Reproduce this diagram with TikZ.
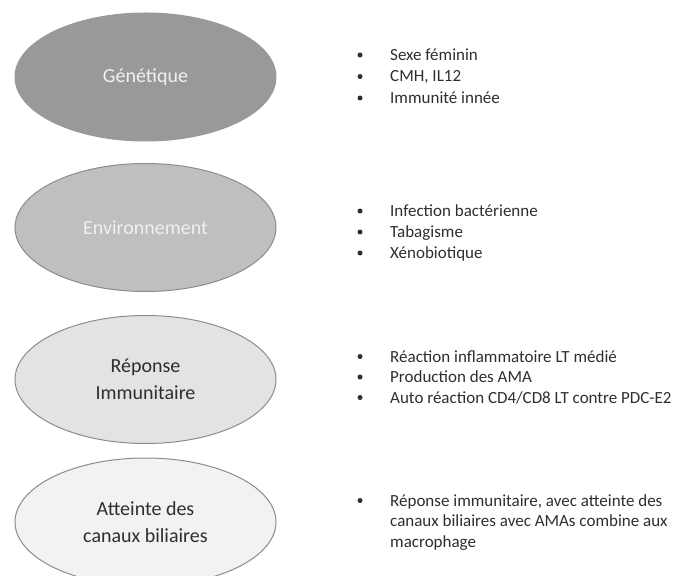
\documentclass[tikz,border=0pt]{standalone}
\usepackage{fontspec}
\setmainfont{Carlito}
\usetikzlibrary{shapes.geometric}
\definecolor{gris1}{HTML}{999999}
\definecolor{gris2}{HTML}{BFBFBF}
\definecolor{gris3}{HTML}{E3E3E3}
\definecolor{gris4}{HTML}{F2F2F2}
\definecolor{bord}{HTML}{8C8C8C}
\definecolor{texte}{HTML}{2E2E2E}
\begin{document}
\begin{tikzpicture}[x=1bp,y=-1bp]
    % Axe y inversé : les positions sont en pixels depuis le haut.
    \tikzset{
      bulle/.style={ellipse,draw=bord,line width=1bp,minimum width=261bp,
        minimum height=128bp,inner sep=0pt,align=center,
        font=\fontsize{20bp}{27bp}\selectfont},
      puce/.style={circle,fill=texte,inner sep=0pt,minimum size=5bp},
      ligne/.style={anchor=base west,inner sep=0pt,text=texte,
        font=\fontsize{17bp}{20bp}\selectfont}}
    \useasboundingbox (0,0) rectangle (685,576);
    % Les quatre facteurs, du plus foncé au plus clair
    \node[bulle,fill=gris1,draw=gris1,text=white!94!black] (genetique) at (145.5,77) {Génétique};
    \node[bulle,fill=gris2,text=white!94!black] (environnement) at (145.5,227.5) {Environnement};
    \node[bulle,fill=gris3,text=texte] (reponse) at (145.5,379.5) {Réponse\\Immunitaire};
    \node[bulle,fill=gris4,text=texte] (atteinte) at (145.5,522) {Atteinte des\\canaux biliaires};
    % Listes à puces : y = centre de la puce, ligne de base 5.5 plus bas
    \foreach \y/\t [count=\i] in {55/Sexe féminin, 76.5/{CMH, IL12}, 98/Immunité innée} {
      \node[puce] (pg\i) at (360,\y) {};
      \node[ligne] (lg\i) at (390,\y+5.5) {\t};
    }
    \foreach \y/\t [count=\i] in {211/Infection bactérienne, 232/Tabagisme, 253/Xénobiotique} {
      \node[puce] (pe\i) at (360,\y) {};
      \node[ligne] (le\i) at (390,\y+5.5) {\t};
    }
    \foreach \y/\t [count=\i] in {356.5/Réaction inflammatoire LT médié, 377/Production des AMA,
        397.5/{Auto réaction CD4/CD8 LT contre PDC-E2}} {
      \node[puce] (pr\i) at (360,\y) {};
      \node[ligne] (lr\i) at (390,\y+5.5) {\t};
    }
    % Dernier point sur trois lignes
    \node[puce] (pa) at (360,500.5) {};
    \foreach \y/\t [count=\i] in {500.5/{Réponse immunitaire, avec atteinte des},
        521/canaux biliaires avec AMAs combine aux, 541.5/macrophage} {
      \node[ligne] (la\i) at (390,\y+5.5) {\t};
    }
  \end{tikzpicture}
\end{document}
